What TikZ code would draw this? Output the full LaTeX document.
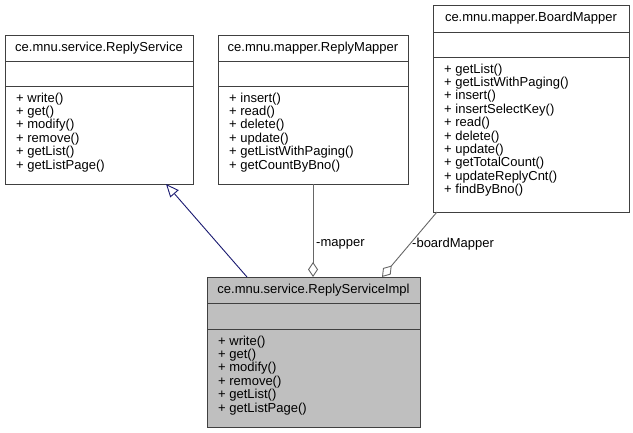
\documentclass[tikz,border=0pt]{standalone}
\usepackage{fontspec}
\setmainfont{Liberation Sans}
\usetikzlibrary{arrows.meta,calc}
\definecolor{boxline}{RGB}{64,64,64}
\definecolor{assocline}{RGB}{102,102,102}
\definecolor{implfill}{RGB}{191,191,191}
\definecolor{genline}{RGB}{25,25,112}
\tikzset{
  x=1bp, y=-1bp,
  classbox/.style={draw=boxline, line width=0.9bp, anchor=north west, inner sep=0pt, fill=white},
  sepline/.style={draw=boxline, line width=0.9bp},
  classtitle/.style={inner sep=0pt, font=\fontsize{13bp}{13.4bp}\selectfont},
  members/.style={inner sep=0pt, anchor=north west, align=left, font=\fontsize{13bp}{13.4bp}\selectfont},
  assoc/.style={draw=assocline, line width=0.9bp, {Diamond[open, length=15bp, width=10bp, line width=0.9bp]}-},
  gen/.style={draw=genline, line width=0.9bp, -{Triangle[open, length=13bp, width=11bp, line width=0.9bp]}},
  rolelabel/.style={inner sep=0pt, anchor=west, font=\fontsize{13bp}{13.4bp}\selectfont}
}
\newcommand{\umlclass}[9]{%
  % #1 name, #2 left, #3 top, #4 right, #5 bottom, #6 title sep, #7 attr sep, #8 title, #9 members
  \node[classbox, minimum width=#4bp-#2bp, minimum height=#5bp-#3bp] (#1) at (#2,#3) {};
  \draw[sepline] (#2,#6) -- (#4,#6);
  \draw[sepline] (#2,#7) -- (#4,#7);
  \node[classtitle] (#1-title) at ({(#2+#4)/2},{(#3+#6)/2}) {#8};
  \node[members] (#1-ops) at (#2+11,#7+6.5) {#9};
}
\begin{document}
\begin{tikzpicture}
\useasboundingbox (0,0) rectangle (633,433);

\umlclass{svc}{5}{35}{193}{184}{61}{86}{ce.mnu.service.ReplyService}%
  {+ write()\\+ get()\\+ modify()\\+ remove()\\+ getList()\\+ getListPage()}

\umlclass{rmap}{218}{35}{408}{184}{61}{86}{ce.mnu.mapper.ReplyMapper}%
  {+ insert()\\+ read()\\+ delete()\\+ update()\\+ getListWithPaging()\\+ getCountByBno()}

\umlclass{bmap}{433}{5}{629}{212}{32}{57}{ce.mnu.mapper.BoardMapper}%
  {+ getList()\\+ getListWithPaging()\\+ insert()\\+ insertSelectKey()\\+ read()\\+ delete()\\+ update()\\+ getTotalCount()\\+ updateReplyCnt()\\+ findByBno()}

\begin{scope}[classbox/.append style={fill=implfill}]
\umlclass{impl}{207}{277}{420}{427}{303}{329}{ce.mnu.service.ReplyServiceImpl}%
  {+ write()\\+ get()\\+ modify()\\+ remove()\\+ getList()\\+ getListPage()}
\end{scope}

% connector end points on the box borders
\coordinate (genFrom) at (247,277);
\coordinate (genTo) at (166,184);
\coordinate (mapAt) at (313,277);
\coordinate (mapFrom) at (313,184);
\coordinate (bmapAt) at (382,277);
\coordinate (bmapFrom) at (437,212);

\draw[gen] (genFrom) -- (genTo);
\draw[assoc] (mapAt) -- (mapFrom);
\draw[assoc] (bmapAt) -- (bmapFrom);

\node[rolelabel] (mapLabel) at (316,244) {-mapper};
\node[rolelabel] (bmapLabel) at (412,244) {-boardMapper};
\end{tikzpicture}
\end{document}
